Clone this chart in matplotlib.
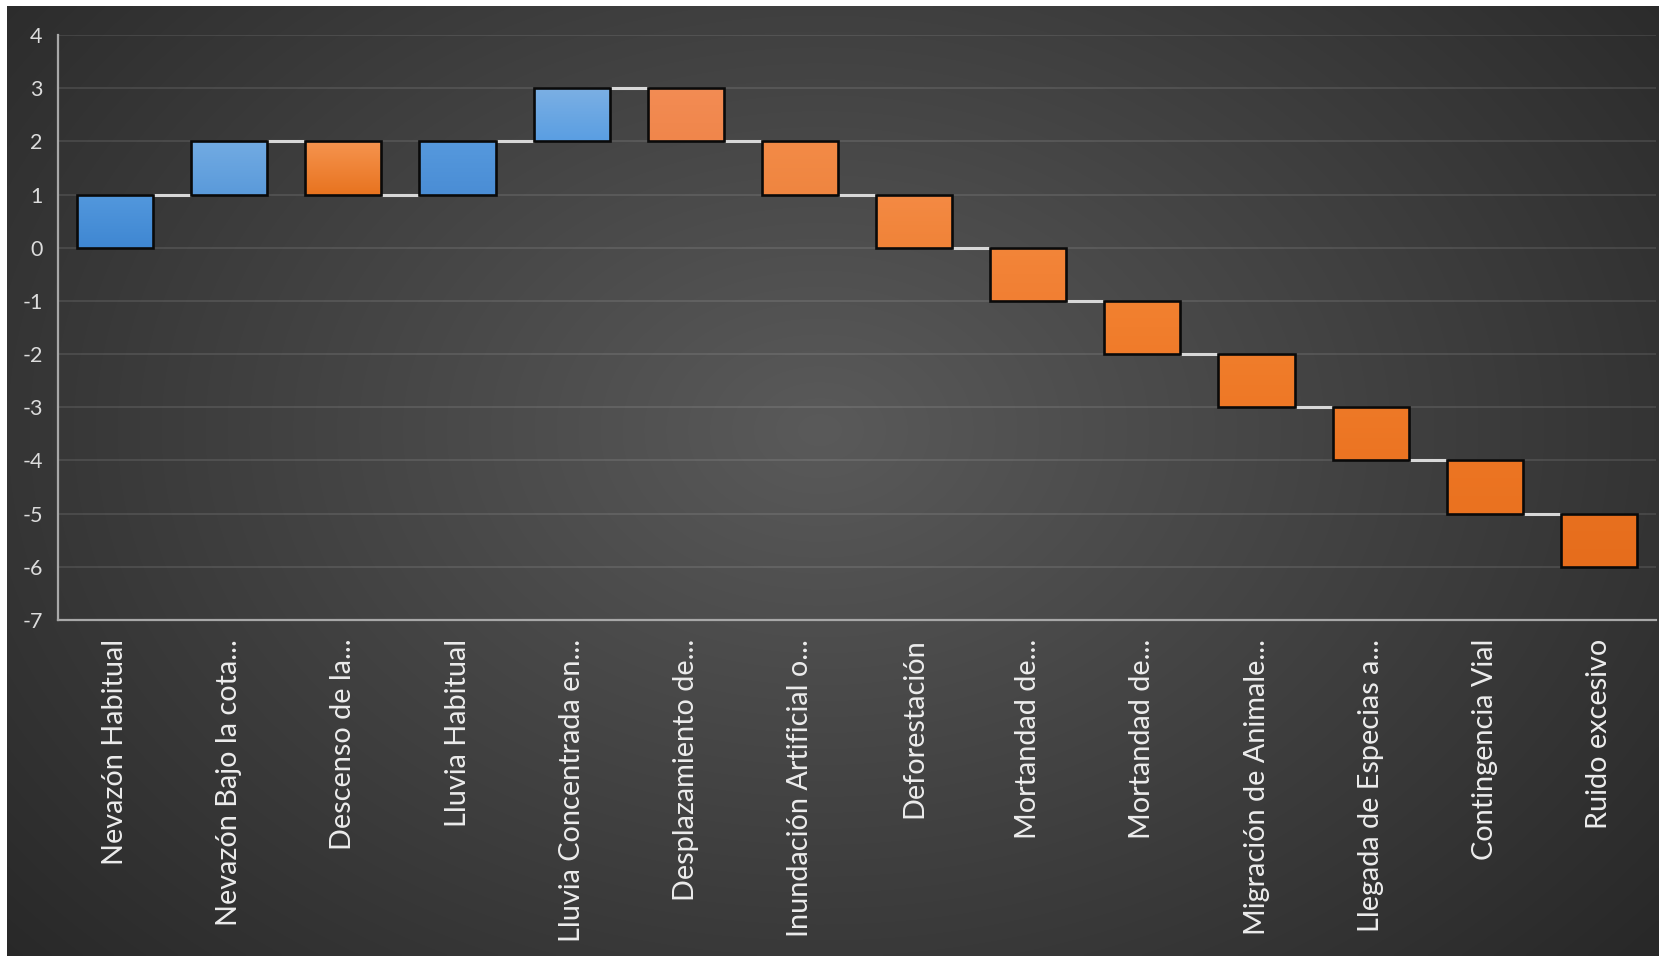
import numpy as np
import matplotlib
matplotlib.use("Agg")
import matplotlib.pyplot as plt
from matplotlib.colors import to_rgb

# ---------------- data ----------------
categories = [
    "Nevazón Habitual", "Nevazón Bajo la cota...", "Descenso de la...",
    "Lluvia Habitual", "Lluvia Concentrada en...", "Desplazamiento de...",
    "Inundación Artificial o...", "Deforestación", "Mortandad de...",
    "Mortandad de...", "Migración de Animale...", "Llegada de Especias a...",
    "Contingencia Vial", "Ruido excesivo",
]
changes = [1, 1, -1, 1, 1, -1, -1, -1, -1, -1, -1, -1, -1, -1]
y_ticks = [-7, -6, -5, -4, -3, -2, -1, 0, 1, 2, 3, 4]

# ---------------- style ----------------
bar_tops = ["#5398dd", "#72abe3", "#f6944f", "#5699dd", "#7cb0e4", "#f38c54", "#f38b47",
            "#f48a44", "#f38539", "#f28130", "#f07d2b", "#ee7927", "#ec7523", "#e8701f"]
bar_bottoms = ["#3f87d2", "#5a9ada", "#e8731f", "#4a8dd5", "#5a9ee2", "#f0864b", "#ef8540",
               "#f08338", "#f17f33", "#f07b2a", "#ee7826", "#ec7422", "#ea7220", "#e66d1c"]

W, H, DPI = 1659, 956, 100
fig = plt.figure(figsize=(W / DPI, H / DPI), dpi=DPI, facecolor="white")

# radial background
bg = fig.add_axes([7 / W, 0, 1 - 7 / W, 1 - 6 / H])
bg.set_axis_off()
gx = np.linspace(7, W, 400)
gy = np.linspace(6, H, 300)
X, Y = np.meshgrid(gx, gy)
R = np.sqrt(((X - 820) / 1100) ** 2 + ((Y - 430) / 800) ** 2)
R = np.clip(R, 0, 1)
cval = (0x5a - (0x5a - 0x28) * R) / 255.0
img = np.dstack([cval, cval, cval])
bg.imshow(img, aspect="auto", extent=[0, 1, 0, 1], origin="upper", interpolation="bilinear")
bg.set_xlim(0, 1)
bg.set_ylim(0, 1)

# main axes
ax = fig.add_axes([58 / W, 1 - 620 / H, (1656 - 58) / W, 585 / H])
ax.set_facecolor("none")

cum = np.cumsum(changes)
starts = np.concatenate([[0], cum[:-1]])
x = np.arange(len(categories))
bw = 0.667

for i in range(len(categories)):
    lo = min(starts[i], cum[i])
    hi = max(starts[i], cum[i])
    bars = ax.bar(x[i], hi - lo, bottom=lo, width=bw, facecolor="none",
                  edgecolor="#0a0a0a", linewidth=1.9, zorder=4)
    patch = bars[0]
    t = np.array(to_rgb(bar_tops[i]))
    b = np.array(to_rgb(bar_bottoms[i]))
    s = np.linspace(0, 1, 64)[:, None]
    grad = (t * (1 - s) + b * s)[:, None, :]
    im = ax.imshow(grad, aspect="auto", origin="upper",
                   extent=[x[i] - bw / 2, x[i] + bw / 2, lo, hi], zorder=3,
                   interpolation="bilinear")
    im.set_clip_path(patch)

# connectors
for i in range(len(categories) - 1):
    ax.plot([x[i] + bw / 2, x[i + 1] - bw / 2], [cum[i], cum[i]],
            color="#d8d8d8", linewidth=2.2, zorder=2, solid_capstyle="butt")

ax.set_xlim(-0.5, len(categories) - 0.5)
ax.set_ylim(-7, 4)

# grid
ax.set_yticks(y_ticks)
ax.yaxis.grid(True, color="#ffffff", alpha=0.10, linewidth=1.4)
ax.set_axisbelow(True)

for side in ["top", "right"]:
    ax.spines[side].set_visible(False)
for side in ["left", "bottom"]:
    ax.spines[side].set_color("#a8a8a8")
    ax.spines[side].set_linewidth(1.6)
    ax.spines[side].set_zorder(1)

ax.set_xticks(x)
ax.set_xticklabels(categories, rotation=90, fontsize=20.8, color="#ececec",
                   family=["Lato", "DejaVu Sans"], va="top", ha="center")
ax.set_yticklabels([str(v) for v in y_ticks], fontsize=15.5, color="#dcdcdc",
                   family=["Lato", "DejaVu Sans"])
ax.tick_params(axis="x", length=0, pad=13.5)
ax.tick_params(axis="y", length=0, pad=11)

fig.savefig("out.png", dpi=DPI, facecolor="white")
